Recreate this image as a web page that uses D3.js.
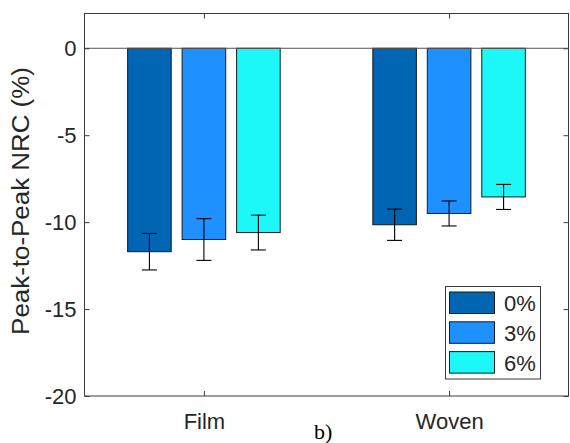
<!DOCTYPE html>
<html>
<head>
<meta charset="utf-8">
<script src="https://cdn.jsdelivr.net/npm/d3@7"></script>
<style>
  html, body { margin: 0; padding: 0; background: #fff; }
  svg { display: block; }
  text { font-family: "Liberation Sans", Arial, Helvetica, sans-serif; fill: #262626; }
</style>
</head>
<body>
<svg id="chart" width="570" height="443"></svg>
<script>
// Groups on the x axis and the additive levels drawn as grouped bars
const groups = ["Film", "Woven"];
const levels = ["0%", "3%", "6%"];
const colors = ["#0066B4", "#1E90FF", "#1CF8F8"];

// Mean peak-to-peak NRC (%) per group, one array per level
const level0 = [-11.7, -10.15];
const level3 = [-11.0, -9.5];
const level6 = [-10.6, -8.55];

// Error bar half-lengths (%)
const err0 = [1.05, 0.9];
const err3 = [1.2, 0.72];
const err6 = [1.0, 0.72];

const yTicks = [0, -5, -10, -15, -20];

const means = [level0, level3, level6];
const errs = [err0, err3, err6];

const svg = d3.select("#chart");
const plot = { left: 84.5, right: 568.5, top: 13.5, bottom: 396 };
const axisColor = "#3a3a3a";

const x = d3.scaleLinear().domain([0.513, 2.487]).range([plot.left, plot.right]);
const y = d3.scaleLinear().domain([-20, 2]).range([plot.bottom, plot.top]);

// Position of each level within a group (in x-data units)
const sub = d3.scaleBand().domain(levels).range([-1 / 3, 1 / 3]).paddingInner(0.2).paddingOuter(0.1);

const rows = [];
groups.forEach((g, gi) => {
  levels.forEach((lv, li) => {
    rows.push({ group: gi + 1, level: lv, color: colors[li], value: means[li][gi], err: errs[li][gi] });
  });
});

// Bars
svg.append("g").selectAll("rect").data(rows).join("rect")
  .attr("x", d => x(d.group + sub(d.level)))
  .attr("width", d => x(d.group + sub(d.level) + sub.bandwidth()) - x(d.group + sub(d.level)))
  .attr("y", d => y(0))
  .attr("height", d => y(d.value) - y(0))
  .attr("fill", d => d.color)
  .attr("stroke", "#1a1a1a")
  .attr("stroke-width", 1);

// Baseline at zero
svg.append("line")
  .attr("x1", plot.left).attr("x2", plot.right)
  .attr("y1", y(0)).attr("y2", y(0))
  .attr("stroke", "#555").attr("stroke-width", 1);

// Error bars
const eb = svg.append("g").attr("stroke", "#000").attr("stroke-width", 1.1);
const cap = 7.5;
rows.forEach(d => {
  const cx = x(d.group + sub(d.level) + sub.bandwidth() / 2);
  const y1 = y(d.value + d.err), y2 = y(d.value - d.err);
  eb.append("line").attr("x1", cx).attr("x2", cx).attr("y1", y1).attr("y2", y2);
  eb.append("line").attr("x1", cx - cap).attr("x2", cx + cap).attr("y1", y1).attr("y2", y1);
  eb.append("line").attr("x1", cx - cap).attr("x2", cx + cap).attr("y1", y2).attr("y2", y2);
});

// Axes with inward ticks on all four sides
const tickLen = 5;
function styleAxis(g) {
  g.select(".domain").remove();
  g.selectAll(".tick line").attr("stroke", axisColor);
  g.selectAll(".tick text").attr("fill", "#262626").style("font-size", "22px")
    .style("font-family", "'Liberation Sans', Arial, Helvetica, sans-serif");
}
svg.append("g").attr("transform", `translate(${plot.left},0)`)
  .call(d3.axisLeft(y).tickValues(yTicks).tickFormat(d => String(d)).tickSize(-tickLen).tickPadding(8))
  .call(styleAxis);
svg.append("g").attr("transform", `translate(${plot.right},0)`)
  .call(d3.axisRight(y).tickValues(yTicks).tickFormat("").tickSize(-tickLen))
  .call(styleAxis);
svg.append("g").attr("transform", `translate(0,${plot.bottom})`)
  .call(d3.axisBottom(x).tickValues([1, 2]).tickFormat(d => groups[d - 1]).tickSize(-tickLen).tickPadding(17))
  .call(styleAxis);
svg.append("g").attr("transform", `translate(0,${plot.top})`)
  .call(d3.axisTop(x).tickValues([1, 2]).tickFormat("").tickSize(-tickLen))
  .call(styleAxis);

// Axes box
svg.append("rect")
  .attr("x", plot.left).attr("y", plot.top)
  .attr("width", plot.right - plot.left).attr("height", plot.bottom - plot.top)
  .attr("fill", "none").attr("stroke", axisColor).attr("stroke-width", 1);

// Y axis title
svg.append("text")
  .attr("transform", "translate(29,201) scale(1,1.08) rotate(-90)")
  .attr("text-anchor", "middle")
  .style("font-size", "24px")
  .text("Peak-to-Peak NRC (%)");

// Legend
const leg = svg.append("g");
leg.append("rect")
  .attr("x", 445.5).attr("y", 286.5).attr("width", 95).attr("height", 92.5)
  .attr("fill", "#fff").attr("stroke", axisColor).attr("stroke-width", 1);
levels.forEach((lv, i) => {
  const top = 292 + i * 29.8;
  leg.append("rect")
    .attr("x", 449.5).attr("y", top).attr("width", 45).attr("height", 21.5)
    .attr("fill", colors[i]).attr("stroke", "#1a1a1a").attr("stroke-width", 1);
  leg.append("text")
    .attr("x", 504).attr("y", top + 19)
    .style("font-size", "22px")
    .text(lv);
});

// Panel label
svg.append("text")
  .attr("x", 314).attr("y", 439)
  .style("font-family", "'Liberation Serif', 'Times New Roman', serif")
  .style("font-size", "22px")
  .style("fill", "#000")
  .text("b)");
</script>
</body>
</html>
